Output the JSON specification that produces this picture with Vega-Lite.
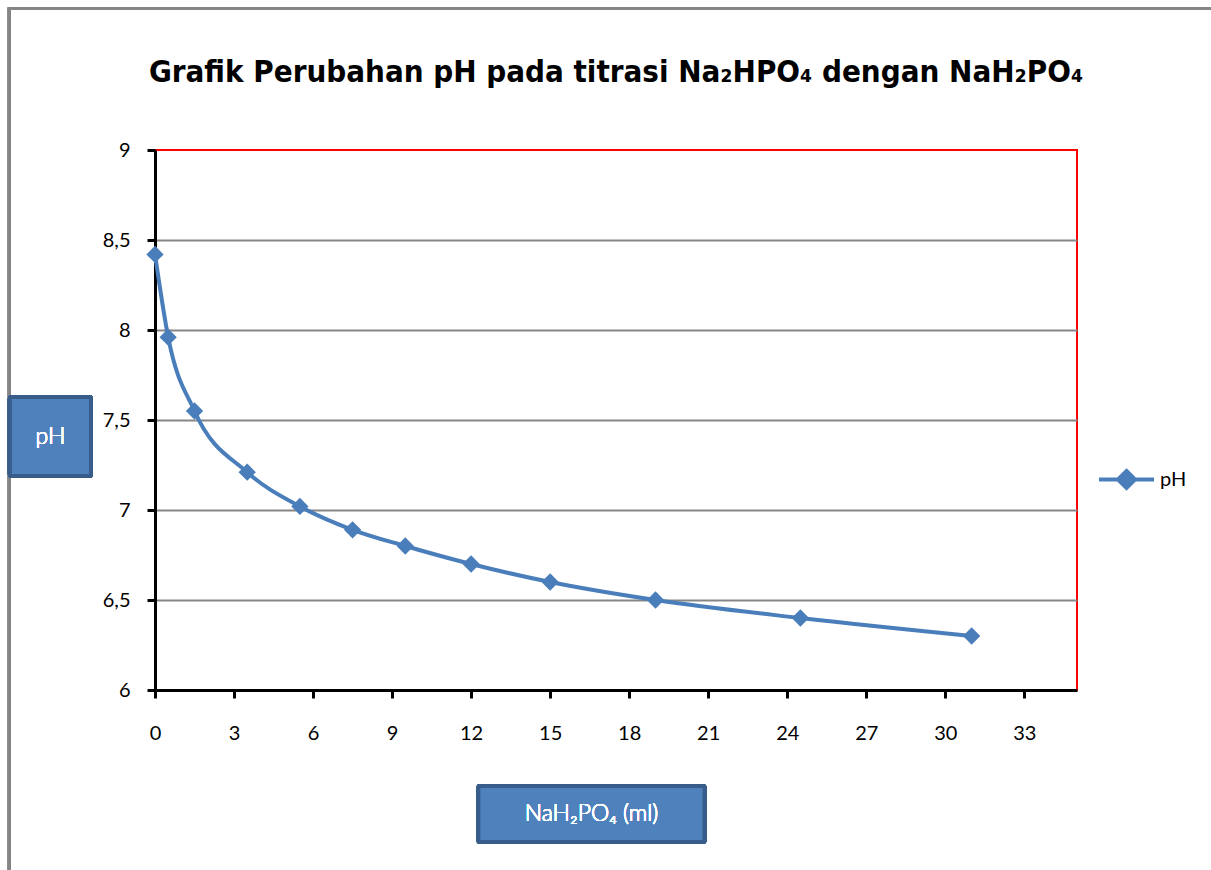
{
  "$schema": "https://vega.github.io/schema/vega-lite/v6.json",
  "width": 922,
  "height": 540,
  "autosize": "none",
  "padding": {"left": 155, "top": 150, "right": 134, "bottom": 180},
  "background": "#FFFFFF",
  "title": {
    "text": "Grafik Perubahan pH pada titrasi Na₂HPO₄ dengan NaH₂PO₄",
    "font": "DejaVu Sans Condensed",
    "fontWeight": "bold",
    "fontSize": 31,
    "color": "#000000",
    "anchor": "middle",
    "frame": "group",
    "baseline": "alphabetic",
    "offset": -106
  },
  "data": {
    "values": [
      {"ml": 0, "pH": 8.42},
      {"ml": 0.5, "pH": 7.96},
      {"ml": 1.5, "pH": 7.55},
      {"ml": 3.5, "pH": 7.21},
      {"ml": 5.5, "pH": 7.02},
      {"ml": 7.5, "pH": 6.89},
      {"ml": 9.5, "pH": 6.8},
      {"ml": 12, "pH": 6.7},
      {"ml": 15, "pH": 6.6},
      {"ml": 19, "pH": 6.5},
      {"ml": 24.5, "pH": 6.4},
      {"ml": 31, "pH": 6.3}
    ]
  },
  "encoding": {
    "x": {
      "field": "ml",
      "type": "quantitative",
      "scale": {"domain": [0, 35], "nice": false, "zero": false},
      "axis": {
        "title": null,
        "values": [0, 3, 6, 9, 12, 15, 18, 21, 24, 27, 30, 33],
        "grid": false,
        "labelFlush": false,
        "labelPadding": 25,
        "tickSize": 8
      }
    },
    "y": {
      "field": "pH",
      "type": "quantitative",
      "scale": {"domain": [6, 9], "nice": false, "zero": false},
      "axis": {
        "title": null,
        "values": [6, 6.5, 7, 7.5, 8, 8.5, 9],
        "format": "~g",
        "labelExpr": "replace(datum.label, '.', ',')",
        "grid": true,
        "gridColor": "#868686",
        "gridWidth": 2,
        "gridOpacity": {"condition": {"test": "datum.value >= 9 || datum.value <= 6", "value": 0}, "value": 1},
        "labelPadding": 17,
        "tickSize": 8
      }
    }
  },
  "layer": [
    {
      "mark": {"type": "rule", "color": "#868686", "strokeWidth": 3},
      "encoding": {
        "x": {"datum": -5.53},
        "y": {"datum": 9.786},
        "y2": {"datum": 4.8}
      }
    },
    {
      "mark": {"type": "rule", "color": "#868686", "strokeWidth": 3},
      "encoding": {
        "x": {"datum": -5.585},
        "x2": {"datum": 40.5},
        "y": {"datum": 9.786}
      }
    },
    {
      "mark": {"type": "rect", "fill": "#4F81BD", "stroke": "#385D8A", "strokeWidth": 4, "cornerRadius": 2},
      "encoding": {
        "x": {"datum": -5.51},
        "x2": {"datum": -2.43},
        "y": {"datum": 7.628},
        "y2": {"datum": 7.189}
      }
    },
    {
      "mark": {"type": "text", "text": "pH", "color": "#FFFFFF", "font": "Lato", "fontSize": 23, "fontWeight": 300, "align": "center", "baseline": "middle"},
      "encoding": {
        "x": {"datum": -3.97},
        "y": {"datum": 7.406}
      }
    },
    {
      "mark": {"type": "rect", "fill": "#4F81BD", "stroke": "#385D8A", "strokeWidth": 4, "cornerRadius": 2},
      "encoding": {
        "x": {"datum": 12.275},
        "x2": {"datum": 20.863},
        "y": {"datum": 5.467},
        "y2": {"datum": 5.156}
      }
    },
    {
      "mark": {"type": "text", "text": "NaH₂PO₄ (ml)", "color": "#FFFFFF", "font": "Lato", "fontSize": 23, "fontWeight": 300, "align": "center", "baseline": "middle"},
      "encoding": {
        "x": {"datum": 16.57},
        "y": {"datum": 5.311}
      }
    },
    {
      "mark": {"type": "line", "color": "#4A7EBB", "strokeWidth": 4, "interpolate": "monotone"}
    },
    {
      "mark": {"type": "point", "shape": "diamond", "filled": true, "size": 300, "opacity": 1},
      "encoding": {
        "color": {
          "datum": "pH",
          "scale": {"range": ["#4A7EBB"]},
          "legend": {
            "title": null,
            "orient": "none",
            "legendX": 942,
            "legendY": 300,
            "padding": 0,
            "symbolType": "M-1,0H1M0,-0.31L0.31,0L0,0.31L-0.31,0Z",
            "symbolSize": 3025,
            "symbolStrokeWidth": 4,
            "symbolStrokeColor": "#4A7EBB",
            "symbolFillColor": "#4A7EBB",
            "symbolOpacity": 1,
            "labelFont": "Lato",
            "labelFontSize": 20,
            "labelColor": "#000000",
            "labelOffset": 4
          }
        }
      }
    }
  ],
  "config": {
    "view": {"stroke": "#FF0000", "strokeWidth": 2},
    "axis": {
      "domainColor": "#000000",
      "domainWidth": 3,
      "tickColor": "#000000",
      "tickWidth": 3,
      "labelFont": "Lato",
      "labelFontSize": 20,
      "labelColor": "#000000"
    }
  }
}
